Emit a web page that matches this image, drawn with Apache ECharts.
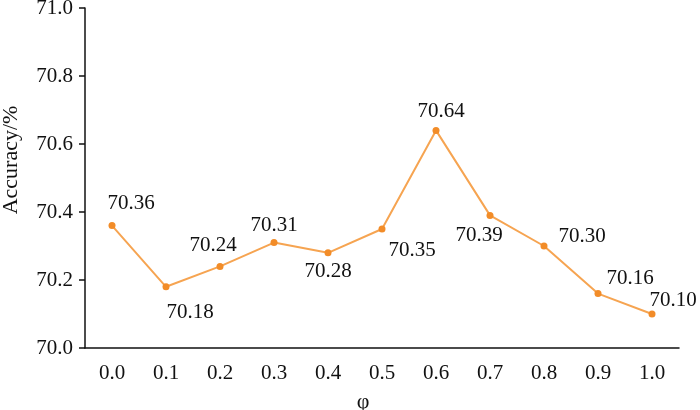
<!DOCTYPE html>
<html><head><meta charset="utf-8">
<script src="https://cdn.jsdelivr.net/npm/echarts@6/dist/echarts.min.js"></script>
<style>html,body{margin:0;padding:0;background:#fff}#c{width:700px;height:410px}</style>
</head><body><div id="c"></div>
<script>
const categories = ['0.0','0.1','0.2','0.3','0.4','0.5','0.6','0.7','0.8','0.9','1.0'];
const accuracy = [70.36,70.18,70.24,70.31,70.28,70.35,70.64,70.39,70.30,70.16,70.10];
const labelOffsets = [[19,-22],[24,26],[-7,-21],[0,-17],[0,19],[30,21],[5,-19],[-11,20],[38,-10],[32,-15],[21,-14]];
const FONT = "'Liberation Serif', 'Times New Roman', serif";
const chart = echarts.init(document.getElementById('c'));
chart.setOption({
  animation:false,
  grid:{left:85,right:21,top:8,bottom:62,containLabel:false,outerBoundsMode:'none'},
  xAxis:{type:'category',data:categories,boundaryGap:true,
    name:'φ',nameLocation:'middle',nameGap:43,
    nameTextStyle:{fontFamily:FONT,fontSize:22,color:'#111',padding:[0,38,0,0]},
    axisLine:{lineStyle:{color:'#111',width:1.5}},
    axisTick:{alignWithLabel:true,length:6,lineStyle:{color:'#111',width:1.5}},
    axisLabel:{fontFamily:FONT,fontSize:21,color:'#111',margin:15}},
  yAxis:{type:'value',min:70.0,max:71.0,interval:0.2,
    name:'Accuracy/%',nameLocation:'middle',nameGap:63,
    nameTextStyle:{fontFamily:FONT,fontSize:22,color:'#111',padding:[0,0,0,36]},
    axisLine:{show:true,lineStyle:{color:'#111',width:1.5}},
    axisTick:{show:true,length:6,lineStyle:{color:'#111',width:1.5}},
    splitLine:{show:false},
    axisLabel:{fontFamily:FONT,fontSize:21,color:'#111',margin:12,formatter:v=>v.toFixed(1)}},
  series:[{type:'line',
    data:accuracy.map((v,i)=>({value:v,label:{offset:labelOffsets[i]}})),
    symbol:'circle',symbolSize:7,
    lineStyle:{color:'#F6A451',width:2},
    itemStyle:{color:'#F28C28'},
    label:{show:true,position:'inside',fontFamily:FONT,fontSize:21,color:'#111',formatter:p=>p.value.toFixed(2)}}]
});
</script></body></html>
